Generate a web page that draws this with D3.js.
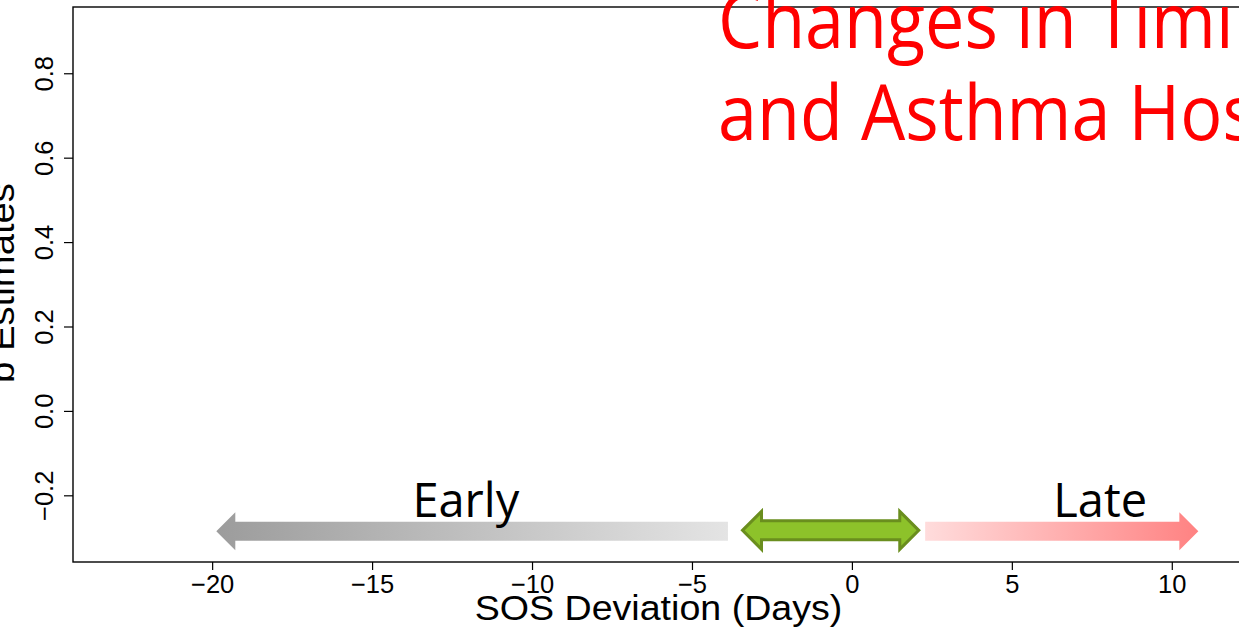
<!DOCTYPE html>
<html>
<head>
<meta charset="utf-8">
<script src="https://cdn.jsdelivr.net/npm/d3@7"></script>
<style>
  html, body { margin: 0; padding: 0; background: #fff; overflow: hidden; }
  svg { display: block; }
</style>
</head>
<body>
<script>
// ---- data ----
const xTicks = [-20, -15, -10, -5, 0, 5, 10];
const yTicks = [-0.2, 0.0, 0.2, 0.4, 0.6, 0.8];
const xDomain = [-24.35, 12.32];
const yDomain = [-0.358, 0.957];
const xLabel = "SOS Deviation (Days)";
const yLabel = "b Estimates";
const titleLines = ["Changes in Timing", "and Asthma Hospitalizations"];
// arrows: start/end in days, vertical position in estimate units
const arrowNames = ["early", "normal", "late"];
const arrowX0 = [-19.87, -3.42, 2.29];
const arrowX1 = [-3.875, 2.09, 10.83];
const arrowY = [-0.285, -0.283, -0.285];
const arrowLabels = ["Early", "", "Late"];
const labelX = [-12.07, 0, 7.76];
const labelY = -0.252;

// ---- layout ----
const W = 1239, H = 636;
const m = { left: 73, top: 7, right: 1246, bottom: 562 };

const svg = d3.select("body").append("svg").attr("width", W).attr("height", H);
const defs = svg.append("defs");

const gGray = defs.append("linearGradient").attr("id", "gGray").attr("x1", "0%").attr("x2", "100%");
gGray.append("stop").attr("offset", "0%").attr("stop-color", "#9c9c9c");
gGray.append("stop").attr("offset", "100%").attr("stop-color", "#e4e4e4");
const gRed = defs.append("linearGradient").attr("id", "gRed").attr("x1", "0%").attr("x2", "100%");
gRed.append("stop").attr("offset", "0%").attr("stop-color", "#ffdcdc");
gRed.append("stop").attr("offset", "100%").attr("stop-color", "#ff8282");

const x = d3.scaleLinear().domain(xDomain).range([m.left, m.right]);
const y = d3.scaleLinear().domain(yDomain).range([m.bottom, m.top]);

// box
svg.append("rect")
  .attr("x", m.left).attr("y", m.top)
  .attr("width", m.right - m.left).attr("height", m.bottom - m.top)
  .attr("fill", "none").attr("stroke", "#000").attr("stroke-width", 1.4);

// x axis
const xAxis = svg.append("g").attr("transform", `translate(0,${m.bottom})`)
  .call(d3.axisBottom(x).tickValues(xTicks).tickSize(8).tickSizeOuter(0)
        .tickFormat(d => d < 0 ? "\u2212" + Math.abs(d) : String(d)));
xAxis.select(".domain").remove();
xAxis.selectAll("line").attr("stroke", "#000").attr("stroke-width", 1.2);
xAxis.selectAll("text")
  .attr("font-family", "'Liberation Sans', Arial, sans-serif")
  .attr("font-size", 25.5).attr("fill", "#000")
  .attr("dy", 0).attr("y", 31);

// y axis
const yAxis = svg.append("g").attr("transform", `translate(${m.left},0)`)
  .call(d3.axisLeft(y).tickValues(yTicks).tickSize(9).tickSizeOuter(0)
        .tickFormat(d => (d < 0 ? "\u2212" : "") + Math.abs(d).toFixed(1)));
yAxis.select(".domain").remove();
yAxis.selectAll("line").attr("stroke", "#000").attr("stroke-width", 1.2);
yAxis.selectAll(".tick text")
  .attr("font-family", "'Liberation Sans', Arial, sans-serif")
  .attr("font-size", 25.5).attr("fill", "#000")
  .attr("x", 0).attr("dy", 0)
  .attr("text-anchor", "middle")
  .attr("transform", "translate(-20,0) rotate(-90)");

// axis titles
svg.append("text")
  .attr("transform", `translate(${(m.left + m.right) / 2 - 1},620) scale(1.09,1)`)
  .attr("text-anchor", "middle")
  .attr("font-family", "'Liberation Sans', Arial, sans-serif")
  .attr("font-size", 34.5).attr("fill", "#000")
  .text(xLabel);
svg.append("text")
  .attr("transform", `translate(14,${(m.top + m.bottom) / 2 - 1.5}) rotate(-90) scale(1.11,1)`)
  .attr("text-anchor", "middle")
  .attr("font-family", "'Liberation Sans', Arial, sans-serif")
  .attr("font-size", 34.5).attr("fill", "#000")
  .text(yLabel);

// arrows
const bodyH = 9.5, headH = 19, headL = 19;
function arrowPath(x0, x1, yc, leftHead, rightHead) {
  const p = [];
  const a = leftHead ? x0 + headL : x0;
  const b = rightHead ? x1 - headL : x1;
  p.push([a, yc - bodyH]);
  p.push([b, yc - bodyH]);
  if (rightHead) { p.push([b, yc - headH]); p.push([x1, yc]); p.push([b, yc + headH]); }
  p.push([b, yc + bodyH]);
  p.push([a, yc + bodyH]);
  if (leftHead) { p.push([a, yc + headH]); p.push([x0, yc]); p.push([a, yc - headH]); }
  return "M" + p.map(d => d.join(",")).join("L") + "Z";
}
const arrows = arrowNames.map((n, i) => ({ name: n, x0: arrowX0[i], x1: arrowX1[i], y: arrowY[i], label: arrowLabels[i], lx: labelX[i] }));
const styleOf = {
  early: { fill: "url(#gGray)", stroke: "none", sw: 0, l: true, r: false },
  normal: { fill: "#8dc22a", stroke: "#6a8e1e", sw: 3, l: true, r: true },
  late: { fill: "url(#gRed)", stroke: "none", sw: 0, l: false, r: true }
};
svg.selectAll("path.arrow").data(arrows).join("path")
  .attr("class", "arrow")
  .attr("d", d => arrowPath(x(d.x0), x(d.x1), y(d.y), styleOf[d.name].l, styleOf[d.name].r))
  .attr("fill", d => styleOf[d.name].fill)
  .attr("stroke", d => styleOf[d.name].stroke)
  .attr("stroke-width", d => styleOf[d.name].sw)
  .attr("stroke-linejoin", "miter");

svg.selectAll("text.alabel").data(arrows.filter(d => d.label)).join("text")
  .attr("class", "alabel")
  .attr("transform", d => `translate(${x(d.lx)},${y(labelY)})`)
  .attr("text-anchor", "middle")
  .attr("font-family", "'Open Sans', sans-serif")
  .attr("font-size", 47).attr("fill", "#000")
  .text(d => d.label);

// title
const title = svg.append("g").attr("transform", "translate(718,0) scale(0.91,1)");
title.selectAll("text").data(titleLines).join("text")
  .attr("x", 0).attr("y", (d, i) => 48 + i * 92)
  .attr("font-family", "'Open Sans', sans-serif")
  .attr("font-size", 77).attr("fill", "#ff0000")
  .text(d => d);
</script>
</body>
</html>
